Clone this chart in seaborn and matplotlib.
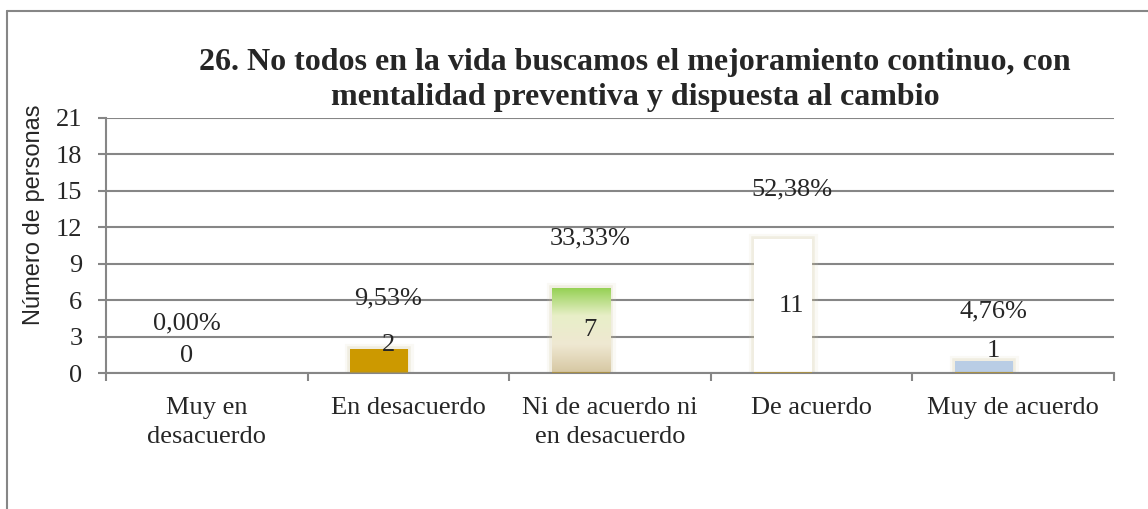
import numpy as np
import pandas as pd
import matplotlib
matplotlib.use('Agg')
import matplotlib.pyplot as plt
import matplotlib.patheffects as pe
from matplotlib.colors import LinearSegmentedColormap
from matplotlib.lines import Line2D
import seaborn as sns

# data
categorias = ['Muy en\ndesacuerdo', 'En desacuerdo', 'Ni de acuerdo ni\nen desacuerdo',
              'De acuerdo', 'Muy de acuerdo']
personas = [0, 2, 7, 11, 1]
porcentajes = ['0,00%', '9,53%', '33,33%', '52,38%', '4,76%']
yticks = [0, 3, 6, 9, 12, 15, 18, 21]

titulo = ('26. No todos en la vida buscamos el mejoramiento continuo, con\n'
          'mentalidad preventiva y dispuesta al cambio')

# two series, the second one empty (that is why bars sit left of the category centre)
df = pd.DataFrame({
    'cat': categorias * 2,
    'valor': personas + [np.nan] * len(personas),
    'serie': ['Personas'] * len(personas) + ['vacia'] * len(personas),
})

sns.set_style('white')
plt.rcParams['font.family'] = ['Liberation Serif', 'DejaVu Serif']

fig = plt.figure(figsize=(11.48, 5.09), dpi=100)
ax = fig.add_axes([106/1148, 1-373/509, (1114-106)/1148, (373-118)/509])

sns.barplot(data=df, x='cat', y='valor', hue='serie', order=categorias,
            width=0.576, dodge=True, errorbar=None, legend=False, ax=ax,
            palette=['#cc9900', '#cc9900'])

ax.set_ylim(0, 21)
ax.set_xlim(-0.5, len(categorias) - 0.5)
ax.set_yticks(yticks)
ax.yaxis.grid(True, color='#868686', lw=1.5)
ax.set_axisbelow(True)
for s in ['top', 'right']:
    ax.spines[s].set_visible(False)
for s in ['left', 'bottom']:
    ax.spines[s].set_color('#868686')
    ax.spines[s].set_linewidth(1.5)

ax.tick_params(axis='y', which='major', length=6, width=1.5, color='#868686',
               direction='out', pad=11, labelsize=19, left=True)
ax.set_xticks(range(len(categorias)))
ax.set_xticklabels(categorias, fontsize=19, linespacing=1.42)
ax.set_xticks(np.arange(-0.5, len(categorias)), minor=True)
ax.tick_params(axis='x', which='major', length=0, pad=17)
ax.tick_params(axis='x', which='minor', length=6, width=1.5, color='#868686',
               direction='out', bottom=True)
ax.set_xlabel('')
ax.set_ylabel('Número de personas', family=['Liberation Sans', 'DejaVu Sans'],
              fontsize=17)
ax.yaxis.set_label_coords(-0.061, 0.62)

# bar styling
colores = ['#cc9900', '#cc9900', None, '#ffffff', '#b9cde5']
sombra = [pe.Stroke(linewidth=8, foreground='#d8d0b0', alpha=0.12),
          pe.Stroke(linewidth=4, foreground='#c8bb88', alpha=0.18),
          pe.Normal()]
barras = ax.containers[0]
for i, bar in enumerate(barras):
    bar.set_edgecolor('none')
    if personas[i] > 0:
        bar.set_path_effects(sombra)
    if colores[i] is None:
        bar.set_facecolor('none')
        x0, y0 = bar.get_x(), bar.get_y()
        w, h = bar.get_width(), bar.get_height()
        cmap = LinearSegmentedColormap.from_list(
            'g', ['#d6c7a2', '#efe8d2', '#e8efc8', '#92d050'])
        grad = np.linspace(0, 1, 256).reshape(-1, 1)
        im = ax.imshow(grad, extent=(x0, x0 + w, y0, y0 + h), origin='lower',
                       cmap=cmap, aspect='auto', zorder=bar.get_zorder() + 0.1)
        im.set_clip_path(bar)
    else:
        bar.set_facecolor(colores[i])
    # darker line at the base of each bar
    if personas[i] > 0:
        ax.plot([bar.get_x(), bar.get_x() + bar.get_width()], [0.04, 0.04],
                color='#a89048', lw=1.5, solid_capstyle='butt', zorder=3)

ax.set_xlim(-0.5, len(categorias) - 0.5)
ax.set_ylim(0, 21)

# labels
for i, bar in enumerate(barras):
    v = personas[i]
    xc = bar.get_x() + bar.get_width() / 2 + 0.045
    yv = v / 2 if v >= 5 else 1.4 + 0.45 * v
    ax.text(xc, yv, str(v), ha='center', va='center', fontsize=19, zorder=5)
    ax.text(xc, v + 4.1, porcentajes[i], ha='center', va='center', fontsize=19, zorder=5)

fig.text(635/1148, 1-80/509, titulo, ha='center', va='center', fontsize=23,
         fontweight='bold', linespacing=1.3)

# outer frame (only top and left edges visible in the crop)
fig.add_artist(Line2D([7/1148, 7/1148], [0, 1-11/509], color='#868686', lw=1.5))
fig.add_artist(Line2D([7/1148, 1], [1-11/509, 1-11/509], color='#868686', lw=1.5))

fig.savefig('out.png', dpi=100)
